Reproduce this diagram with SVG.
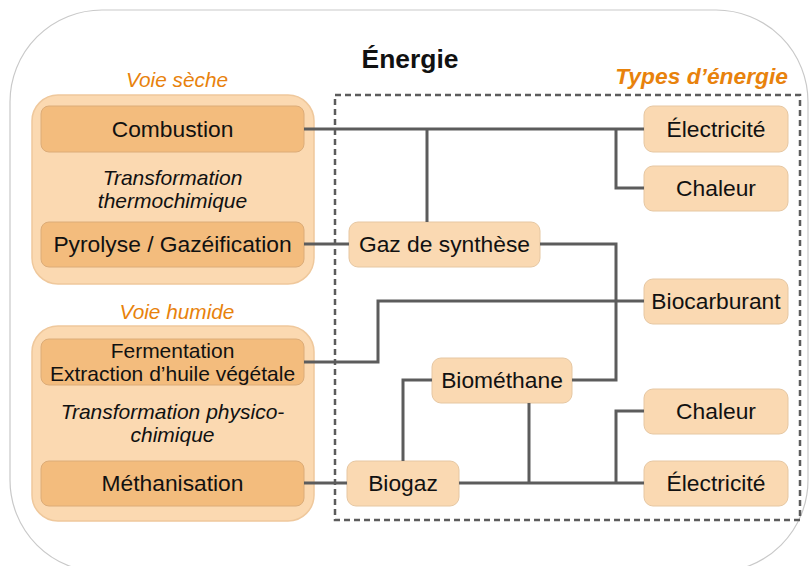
<svg xmlns="http://www.w3.org/2000/svg" width="810" height="566" viewBox="0 0 810 566">
<style>
text{font-family:"Liberation Sans",Arial,sans-serif;fill:#111}
.lbl{font-size:22.8px;text-anchor:middle}
.sm{font-size:21px}
.it{font-size:21px;font-style:italic;text-anchor:middle}
.or{fill:#e8820c;font-style:italic;font-size:20.8px;text-anchor:middle}
.grp{fill:#fbd9b1;stroke:#efc89c;stroke-width:1.5}
.dk{fill:#f3bc7d;stroke:#dcac78;stroke-width:1}
.lt{fill:#fad9b2;stroke:#e6c7a2;stroke-width:1}
.con{fill:none;stroke:#5c5c5c;stroke-width:3}
</style>
<rect width="810" height="566" fill="#fff"/>
<rect id="outer" x="10" y="10" width="798" height="562" rx="92" fill="#fff" stroke="#c9c9c9" stroke-width="1.2"/>
<text x="410" y="68" style="font-size:26.4px;font-weight:bold;text-anchor:middle">Énergie</text>
<text class="or" x="177" y="87">Voie sèche</text>
<text class="or" x="788" y="84" style="font-weight:bold;font-size:22.8px;text-anchor:end">Types d’énergie</text>
<rect id="types" x="335" y="95" width="465" height="425" fill="none" stroke="#5c5c5c" stroke-width="2.5" stroke-dasharray="6,4"/>

<g id="voie-seche">
<rect class="grp" x="32" y="95" width="282" height="189" rx="26"/>
<text class="it" x="172.5" y="185">Transformation</text>
<text class="it" x="172.5" y="208">thermochimique</text>
</g>
<g id="combustion">
<rect class="dk" x="41" y="106" width="263" height="46" rx="8"/>
<text class="lbl" x="172.5" y="137">Combustion</text>
</g>
<g id="pyrolyse">
<rect class="dk" x="41" y="222" width="263" height="45" rx="8"/>
<text class="lbl" x="172.5" y="252">Pyrolyse / Gazéification</text>
</g>

<text class="or" x="177" y="319">Voie humide</text>
<g id="voie-humide">
<rect class="grp" x="32" y="326" width="282" height="195" rx="26"/>
<text class="it" x="172.5" y="419">Transformation physico-</text>
<text class="it" x="172.5" y="442">chimique</text>
</g>
<g id="fermentation">
<rect class="dk" x="41" y="339" width="263" height="46" rx="8"/>
<text class="lbl sm" x="172.5" y="358">Fermentation</text>
<text class="lbl sm" x="172.5" y="381">Extraction d’huile végétale</text>
</g>
<g id="methanisation">
<rect class="dk" x="41" y="461" width="263" height="45" rx="8"/>
<text class="lbl" x="172.5" y="491">Méthanisation</text>
</g>

<g id="electricite1">
<rect class="lt" x="644" y="106" width="144" height="46" rx="9"/>
<text class="lbl" x="716" y="137">Électricité</text>
</g>
<g id="chaleur1">
<rect class="lt" x="644" y="166" width="144" height="45" rx="9"/>
<text class="lbl" x="716" y="196">Chaleur</text>
</g>
<g id="gaz">
<rect class="lt" x="349" y="222" width="191" height="45" rx="9"/>
<text class="lbl" x="444.5" y="252">Gaz de synthèse</text>
</g>
<g id="biocarburant">
<rect class="lt" x="644" y="279" width="144" height="45" rx="9"/>
<text class="lbl" x="716" y="309">Biocarburant</text>
</g>
<g id="biomethane">
<rect class="lt" x="432" y="358" width="140" height="45" rx="9"/>
<text class="lbl" x="502" y="388">Biométhane</text>
</g>
<g id="chaleur2">
<rect class="lt" x="644" y="389" width="144" height="45" rx="9"/>
<text class="lbl" x="716" y="419">Chaleur</text>
</g>
<g id="biogaz">
<rect class="lt" x="347" y="461" width="112" height="45" rx="9"/>
<text class="lbl" x="403" y="491">Biogaz</text>
</g>
<g id="electricite2">
<rect class="lt" x="644" y="461" width="144" height="45" rx="9"/>
<text class="lbl" x="716" y="491">Électricité</text>
</g>

<g id="connectors">
<path class="con" d="M304,129H644M427,129V222M616,129V188H644"/>
<path class="con" d="M304,244H349"/>
<path class="con" d="M540,244H616V380H572"/>
<path class="con" d="M304,362H378V301H644"/>
<path class="con" d="M432,380H403V461"/>
<path class="con" d="M304,483H347"/>
<path class="con" d="M459,483H644M529,403V483M616,483V411H644"/>
</g>
</svg>
